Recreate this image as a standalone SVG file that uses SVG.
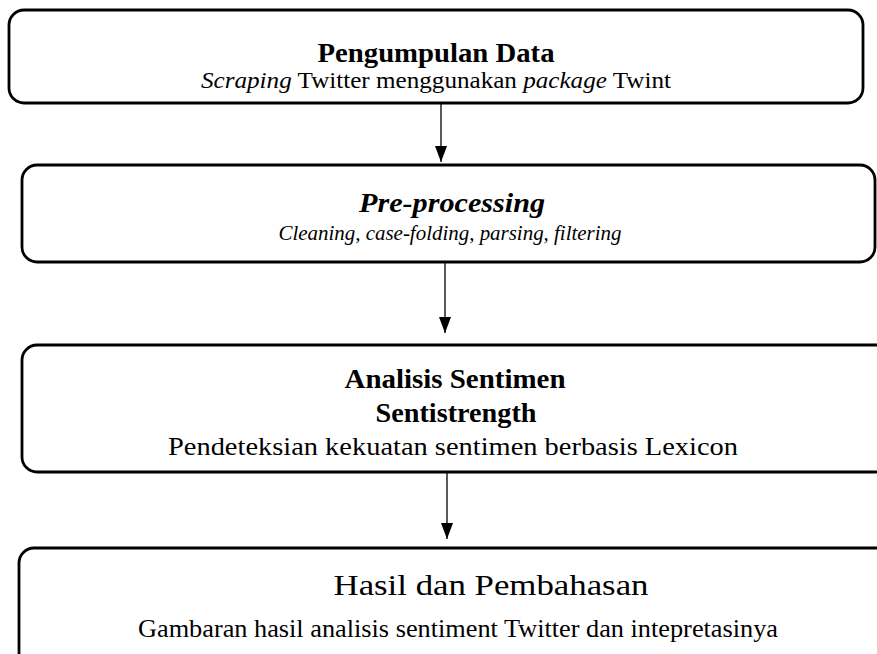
<svg xmlns="http://www.w3.org/2000/svg" width="877" height="654" viewBox="0 0 877 654">
<defs>
<style>
.box{fill:#fff;stroke:#000;stroke-width:2.8}
.t{font-family:"Liberation Serif","DejaVu Serif",serif;fill:#000;text-anchor:middle}
.b{font-weight:bold}
.i{font-style:italic}
.conn line{stroke:#000;stroke-width:1.3}
</style>
<marker id="ah" viewBox="0 0 16 12" refX="16" refY="6" markerWidth="16" markerHeight="12" markerUnits="userSpaceOnUse" orient="auto">
<path d="M0,0 L16,6 L0,12 Z" fill="#000"/>
</marker>
</defs>
<rect width="877" height="654" fill="#fff"/>
<g id="n1">
<rect class="box" x="9" y="10" width="854" height="93" rx="15"/>
<text class="t b" x="436" y="62" font-size="27" textLength="237" lengthAdjust="spacingAndGlyphs">Pengumpulan Data</text>
<text class="t" x="436" y="88" font-size="24" textLength="470" lengthAdjust="spacingAndGlyphs"><tspan class="i">Scraping</tspan> Twitter menggunakan <tspan class="i">package</tspan> Twint</text>
</g>
<g id="n2">
<rect class="box" x="22" y="165" width="853" height="97" rx="15"/>
<text class="t b i" x="452" y="212" font-size="27" textLength="186" lengthAdjust="spacingAndGlyphs">Pre-processing</text>
<text class="t i" x="450" y="240" font-size="21" textLength="343" lengthAdjust="spacingAndGlyphs">Cleaning, case-folding, parsing, filtering</text>
</g>
<g id="n3">
<rect class="box" x="22" y="345" width="870" height="127" rx="15"/>
<text class="t b" x="455" y="388" font-size="27" textLength="221" lengthAdjust="spacingAndGlyphs">Analisis Sentimen</text>
<text class="t b" x="456" y="422" font-size="27" textLength="161" lengthAdjust="spacingAndGlyphs">Sentistrength</text>
<text class="t" x="453" y="455" font-size="25" textLength="570" lengthAdjust="spacingAndGlyphs">Pendeteksian kekuatan sentimen berbasis Lexicon</text>
</g>
<g id="n4">
<rect class="box" x="19" y="548" width="875" height="120" rx="15"/>
<text class="t" x="491" y="595" font-size="29" textLength="315" lengthAdjust="spacingAndGlyphs">Hasil dan Pembahasan</text>
<text class="t" x="458" y="637" font-size="25" textLength="640" lengthAdjust="spacingAndGlyphs">Gambaran hasil analisis sentiment Twitter dan intepretasinya</text>
</g>
<g id="connectors" class="conn">
<line x1="441" y1="104" x2="441" y2="162" marker-end="url(#ah)"/>
<line x1="445" y1="263" x2="445" y2="333" marker-end="url(#ah)"/>
<line x1="447" y1="473" x2="447" y2="539" marker-end="url(#ah)"/>
</g>
</svg>
